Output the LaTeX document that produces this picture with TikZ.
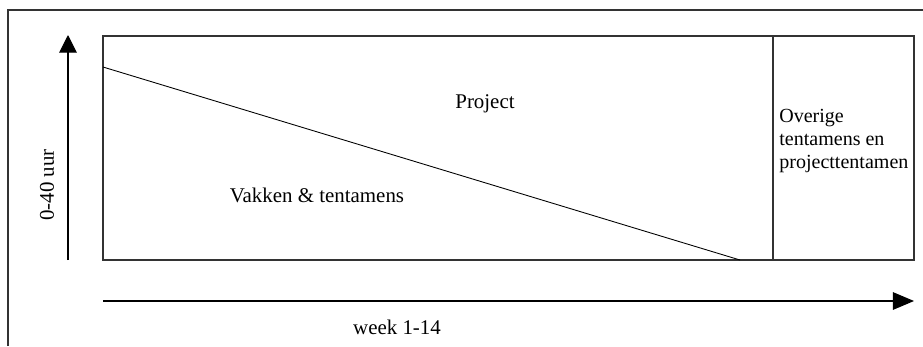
\documentclass[tikz,border=0pt]{standalone}
\usepackage{fontspec}
\setmainfont{Liberation Serif}
\usetikzlibrary{arrows.meta, positioning}

\begin{document}
\begin{tikzpicture}[x=0.02cm, y=-0.02cm,
    frame/.style={line width=0.6pt, black!80},
    axis/.style={line width=0.6pt, -{Triangle[length=10pt, width=10pt]}},
    lbl/.style={font=\fontsize{11.9}{14}\selectfont, inner sep=0pt}]
  \useasboundingbox (0,0) rectangle (923,346);

  % Outer frame
  \draw[frame] (8,346) -- (8,10) -- (923,10);

  % Main box and divider
  \coordinate (nw) at (103,36);
  \coordinate (se) at (914,260);
  \coordinate (divtop) at (773,36);
  \coordinate (divbot) at (773,260);
  \draw[frame] (nw) rectangle (se);
  \draw[frame] (divtop) -- (divbot);

  % Diagonal split
  \coordinate (diagA) at (103,67);
  \coordinate (diagB) at (740,260);
  \draw[line width=0.5pt] (diagA) -- (diagB);

  % Axes
  \coordinate (ybot) at (68,260);
  \coordinate (ytop) at (68,35);
  \draw[axis] (ybot) -- (ytop);
  \coordinate (xleft) at (103,301);
  \coordinate (xright) at (914,301);
  \draw[axis, -{Triangle[length=12pt, width=10pt]}] (xleft) -- (xright);

  % Labels
  \node[lbl] (project) at (485,104) {Project};
  \node[lbl] (vakken) at (317,195) {Vakken \& tentamens};
  \node[lbl, font=\fontsize{11.4}{13.2}\selectfont, anchor=west, align=left] (overige) at (779,141)
    {Overige\\tentamens en\\projecttentamen};
  \node[lbl, rotate=90] (uren) at (47,185) {0-40 uur};
  \node[lbl] (weken) at (397,327) {week 1-14};
\end{tikzpicture}
\end{document}
